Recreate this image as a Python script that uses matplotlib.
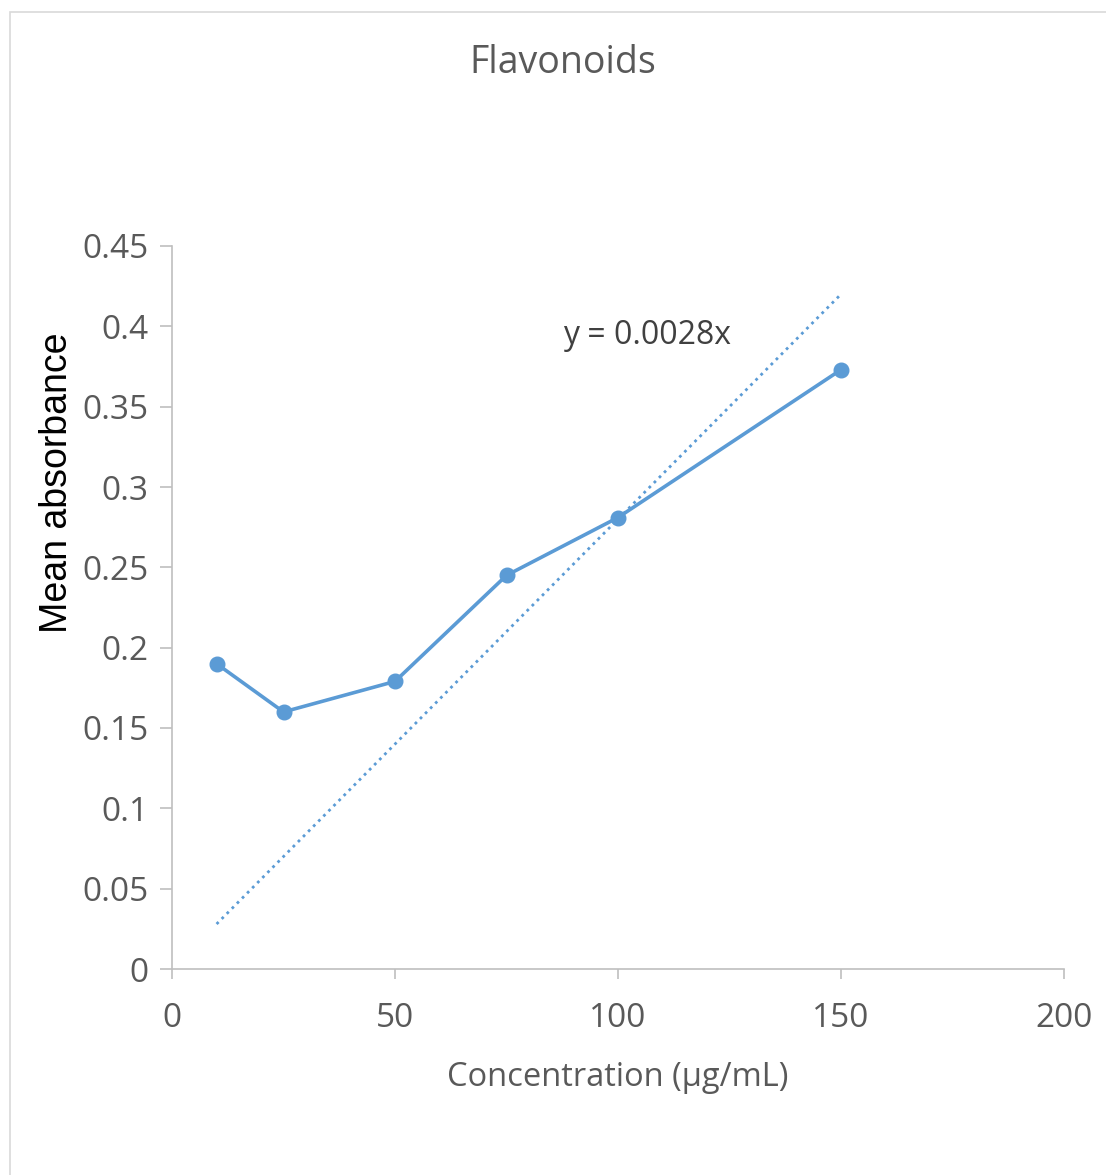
import numpy as np
import matplotlib.pyplot as plt
from matplotlib.patches import Rectangle

# data
concentration = [10, 25, 50, 75, 100, 150]
absorbance = [0.190, 0.160, 0.179, 0.245, 0.281, 0.373]
slope = 0.0028
x_ticks = [0, 50, 100, 150, 200]
y_ticks = [0, 0.05, 0.1, 0.15, 0.2, 0.25, 0.3, 0.35, 0.4, 0.45]
y_tick_labels = ["0", "0.05", "0.1", "0.15", "0.2", "0.25", "0.3", "0.35", "0.4", "0.45"]

blue = "#5B9BD5"
grey_text = "#595959"
axis_grey = "#BFBFBF"

fig = plt.figure(figsize=(11.06, 11.75), dpi=100)

# light chart-area frame (right and bottom edges fall outside the picture)
fig.patches.append(Rectangle((10 / 1106, -0.01), 1.2, 1 - 12 / 1175 + 0.01,
                             transform=fig.transFigure, fill=False,
                             edgecolor="#D9D9D9", linewidth=1.2))

ax = fig.add_axes([172 / 1106, 206 / 1175, 892 / 1106, 723 / 1175])

ax.plot(concentration, absorbance, color=blue, linewidth=2.6,
        marker="o", markersize=10.5, zorder=3)

# linear trendline through origin
xt = np.array([concentration[0], concentration[-1]])
ax.plot(xt, slope * xt, color=blue, linewidth=2, linestyle=(0, (1, 1.6)), zorder=2)
ax.text(87.7, 0.394, "y = 0.0028x", fontsize=23, color="#404040",
        family="Open Sans", va="center", ha="left")

ax.set_xlim(0, 200)
ax.set_ylim(0, 0.45)
ax.set_xticks(x_ticks)
ax.set_xticklabels([str(t) for t in x_ticks])
ax.set_yticks(y_ticks)
ax.set_yticklabels(y_tick_labels)

for side in ["top", "right"]:
    ax.spines[side].set_visible(False)
for side in ["left", "bottom"]:
    ax.spines[side].set_color(axis_grey)
    ax.spines[side].set_linewidth(1.2)

ax.tick_params(axis="both", colors=axis_grey, width=1.2,
               labelcolor=grey_text, labelsize=24)
ax.tick_params(axis="y", length=9, pad=8)
ax.tick_params(axis="x", length=7.5, pad=16)
for lbl in ax.get_xticklabels() + ax.get_yticklabels():
    lbl.set_family("Open Sans")

ax.set_xlabel("Concentration (µg/mL)", fontsize=23.5, color=grey_text,
              family="Open Sans", labelpad=19)

# y label sits above the axes centre in the reference
fig.text(57 / 1106, 1 - 483 / 1175, "Mean absorbance", fontsize=27, color="black",
         family="Liberation Sans", rotation=90, ha="center", va="center")

fig.text(563 / 1106, 1 - 63 / 1175, "Flavonoids", fontsize=27, color=grey_text,
         family="Open Sans", ha="center", va="center")

fig.savefig("out.png", dpi=100)
